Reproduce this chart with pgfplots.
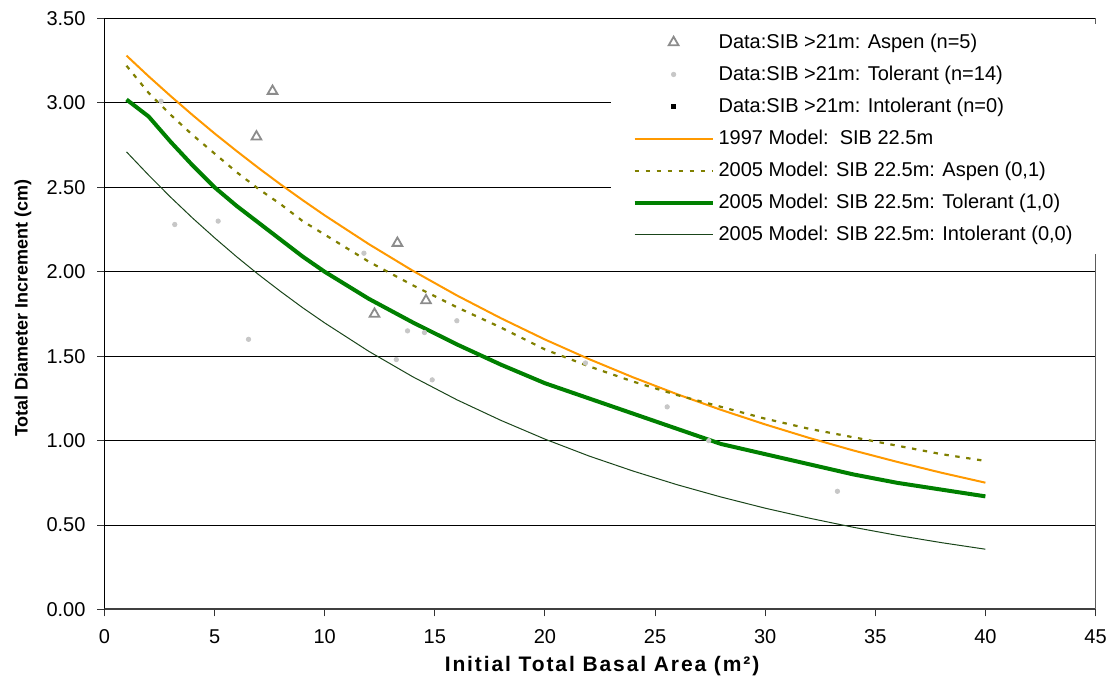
\documentclass[border=0pt]{standalone}
\usepackage{pgfplots}
\pgfplotsset{compat=1.18}
\usepackage{fontspec}
\setmainfont{Liberation Sans}
\definecolor{orangeM}{HTML}{FF9900}
\definecolor{oliveM}{HTML}{808000}
\definecolor{greenM}{HTML}{008000}
\definecolor{dgreenM}{HTML}{1A451A}
\begin{document}
\begin{tikzpicture}
\begin{axis}[
  name=ax,
  scale only axis,
  width=495.5pt, height=295.5pt,
  xmin=0, xmax=45, ymin=0, ymax=3.5,
  xtick={0,5,...,45},
  ytick={0,0.5,...,3.5},
  ymajorgrids,
  grid style={black, line width=0.5pt},
  axis line style={black, line width=0.5pt},
  tick style={black!80, line width=0.5pt},
  tick align=outside,
  major tick length=3.5pt,
  xtick pos=bottom, ytick pos=left,
  /pgf/number format/assume math mode=true,
  ticklabel style={font=\fontsize{10}{12}\selectfont},
  yticklabel style={xshift=-2.5pt, /pgf/number format/.cd, fixed, fixed zerofill, precision=2},
  xticklabel style={yshift=-3pt},
  xlabel={\addfontfeature{LetterSpace=9}\textbf{Initial Total Basal Area (m²)}},
  ylabel={\textbf{Total Diameter Increment (cm)}},
  xlabel style={font=\fontsize{10.5}{12}\selectfont, at={(axis description cs:0.503,-28.5/295.5)}, anchor=center},
  ylabel style={font=\fontsize{9}{11}\selectfont, at={(axis description cs:-40.75/495.5,0.51)}, anchor=center},
  legend cell align=left,
  legend style={at={(0.5103,0.992)}, anchor=north west, draw=none, fill=white,
    font=\fontsize{10}{12}\selectfont, row sep=3.3pt, inner xsep=11pt, inner ysep=3pt},
  legend image code/.code={\draw[mark repeat=2,mark phase=2,#1] plot coordinates {(0pt,0pt) (19.5pt,0pt) (39pt,0pt)};},
]
\addplot[only marks, mark=triangle, mark size=2.8pt, draw=black!45, line width=0.9pt] coordinates {
(6.9,2.80) (7.63,3.07) (12.26,1.75) (13.3,2.17) (14.6,1.83)};
\addlegendentry{Data:SIB >21m: Aspen (n=5)}
\addplot[only marks, mark=*, mark size=1.1pt, draw=black!22, fill=black!22] coordinates {
(2.57,3.01) (3.19,2.28) (5.16,2.30) (6.54,1.60) (11.78,2.11) (13.25,1.48) (13.76,1.65)
(14.53,1.64) (14.88,1.36) (16.0,1.71) (21.84,1.46) (25.55,1.20) (27.44,1.00) (33.28,0.70)};
\addlegendentry{Data:SIB >21m: Tolerant (n=14)}
\addlegendimage{only marks, mark=square*, mark size=1pt, black}
\addlegendentry{Data:SIB >21m: Intolerant (n=0)}
\addplot[orangeM, line width=1pt, mark=none] coordinates {
(1,3.28) (2,3.158) (3,3.041) (4,2.928) (5,2.819) (6,2.715) (7,2.614) (8,2.517) (9,2.424)
(10,2.334) (12,2.164) (14,2.006) (16,1.860) (18,1.725) (20,1.599) (22,1.483) (24,1.375)
(26,1.275) (28,1.182) (30,1.096) (32,1.016) (34,0.942) (36,0.874) (38,0.810) (40,0.751)};
\addlegendentry{1997 Model:\ \ SIB 22.5m}
\addplot[oliveM, line width=1.1pt, dash pattern=on 2.2pt off 3.3pt, mark=none] coordinates {
(1,3.22) (2,3.06) (3,2.93) (4,2.81) (5,2.70) (6,2.59) (7,2.49) (8,2.40) (9,2.30)
(10,2.22) (12,2.06) (14,1.92) (16,1.79) (18,1.67) (20,1.54) (22,1.44) (24,1.35)
(26,1.27) (28,1.20) (30,1.13) (32,1.07) (34,1.02) (36,0.97) (38,0.92) (40,0.88)};
\addlegendentry{2005 Model: SIB 22.5m: Aspen (0,1)}
\addplot[greenM, line width=2pt, mark=none] coordinates {
(1,3.02) (2,2.92) (3,2.77) (4,2.63) (5,2.50) (6,2.39) (7,2.29) (8,2.19) (9,2.09)
(10,2.00) (12,1.84) (14,1.70) (16,1.57) (18,1.45) (20,1.34) (22,1.25) (24,1.16)
(26,1.07) (28,0.98) (30,0.92) (32,0.86) (34,0.80) (36,0.75) (38,0.71) (40,0.67)};
\addlegendentry{2005 Model: SIB 22.5m: Tolerant (1,0)}
\addplot[dgreenM, line width=0.5pt, mark=none] coordinates {
(1,2.71) (2,2.573) (3,2.442) (4,2.318) (5,2.201) (6,2.089) (7,1.983) (8,1.883) (9,1.787)
(10,1.697) (12,1.529) (14,1.378) (16,1.242) (18,1.120) (20,1.009) (22,0.909) (24,0.820)
(26,0.739) (28,0.666) (30,0.600) (32,0.541) (34,0.487) (36,0.439) (38,0.396) (40,0.357)};
\addlegendentry{2005 Model: SIB 22.5m: Intolerant (0,0)}
\draw[black!75, line width=1pt] (rel axis cs:0,0) -- (rel axis cs:1,0);
\draw[black!45, line width=0.8pt] (rel axis cs:1,0) -- (rel axis cs:1,1);
\end{axis}
\pgfresetboundingbox
\path[use as bounding box] ([shift={(-52.25pt,-36.75pt)}]ax.south west) rectangle ([shift={(7.25pt,9.25pt)}]ax.north east);
\end{tikzpicture}
\end{document}
